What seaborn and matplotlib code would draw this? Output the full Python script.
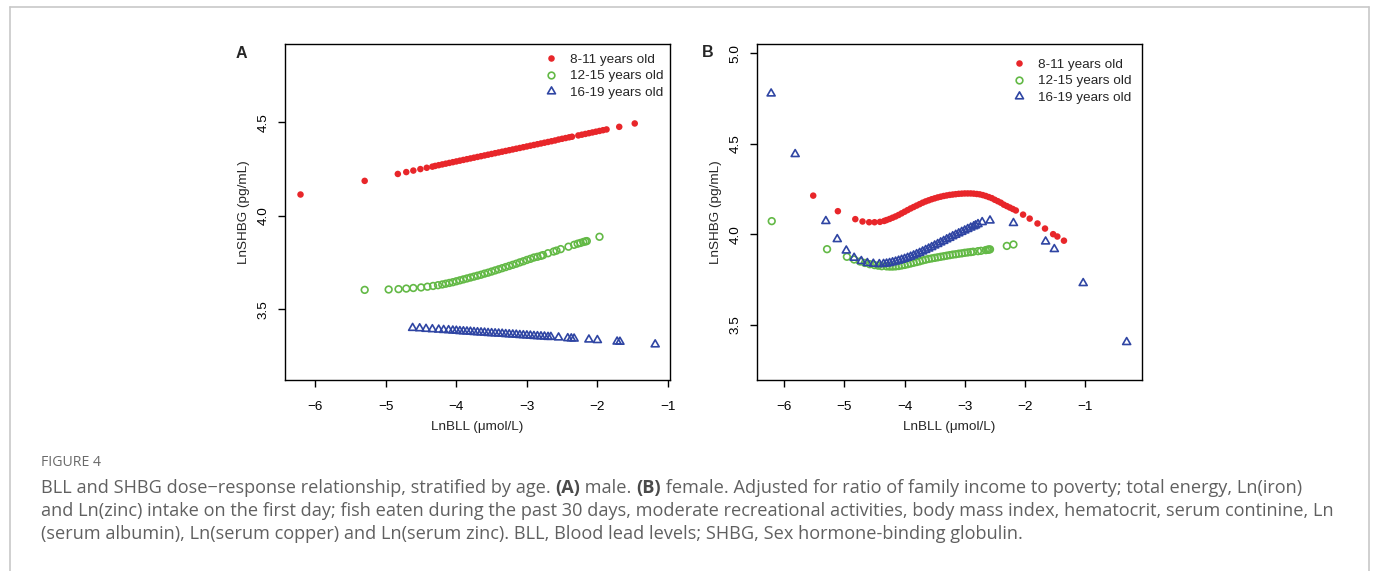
import matplotlib
matplotlib.use("Agg")
import matplotlib.pyplot as plt
import seaborn as sns
from matplotlib.path import Path
from matplotlib.lines import Line2D

# ---------------- data ----------------
labels = ["8-11 years old", "12-15 years old", "16-19 years old"]

# Panel A (male)
a_red_x = [-6.21, -5.30, -4.83, -4.71, -4.61, -4.51, -4.42, -4.34,
           -4.30, -4.25, -4.20, -4.15, -4.10, -4.05, -4.00, -3.95, -3.90, -3.85,
           -3.80, -3.75, -3.70, -3.65, -3.60, -3.55, -3.50, -3.45, -3.40, -3.35,
           -3.30, -3.25, -3.20, -3.15, -3.10, -3.05, -3.00, -2.95, -2.90, -2.85,
           -2.80, -2.75, -2.70, -2.65, -2.60, -2.55, -2.50, -2.45, -2.40, -2.36,
           -2.27, -2.22, -2.17, -2.12, -2.07, -2.02, -1.97, -1.92, -1.87,
           -1.69, -1.47]
a_red_y = [4.114, 4.187, 4.224, 4.234, 4.242, 4.250, 4.257, 4.263,
           4.267, 4.271, 4.275, 4.279, 4.283, 4.287, 4.291, 4.295, 4.299, 4.303,
           4.307, 4.311, 4.315, 4.319, 4.323, 4.327, 4.331, 4.335, 4.339, 4.343,
           4.347, 4.351, 4.355, 4.359, 4.363, 4.367, 4.371, 4.375, 4.379, 4.383,
           4.387, 4.391, 4.395, 4.399, 4.403, 4.408, 4.412, 4.416, 4.420, 4.423,
           4.430, 4.434, 4.438, 4.442, 4.446, 4.450, 4.454, 4.458, 4.462,
           4.476, 4.494]

a_green_x = [-5.30, -4.96, -4.82, -4.71, -4.61, -4.50, -4.41, -4.33, -4.26,
             -4.20, -4.15, -4.10, -4.05, -4.00, -3.95, -3.90, -3.85, -3.80, -3.75,
             -3.70, -3.65, -3.60, -3.55, -3.50, -3.45, -3.40, -3.35, -3.30, -3.25,
             -3.20, -3.15, -3.10, -3.05, -3.00, -2.95, -2.90, -2.85, -2.80,
             -2.77, -2.70, -2.62, -2.58, -2.52, -2.41, -2.33, -2.28, -2.24,
             -2.20, -2.17, -2.15, -1.97]
a_green_y = [3.604, 3.606, 3.608, 3.611, 3.614, 3.617, 3.621, 3.625, 3.629,
             3.633, 3.637, 3.641, 3.645, 3.650, 3.655, 3.660, 3.665, 3.670, 3.675,
             3.680, 3.685, 3.691, 3.696, 3.702, 3.708, 3.714, 3.720, 3.726, 3.732,
             3.738, 3.744, 3.751, 3.757, 3.764, 3.770, 3.777, 3.781, 3.786,
             3.790, 3.800, 3.809, 3.814, 3.822, 3.835, 3.845, 3.851, 3.855,
             3.860, 3.863, 3.865, 3.888]

a_blue_x = [-4.62, -4.52, -4.43, -4.34, -4.25, -4.18, -4.11, -4.05,
            -4.00, -3.95, -3.90, -3.85, -3.80, -3.75, -3.70, -3.65, -3.60, -3.55,
            -3.50, -3.45, -3.40, -3.35, -3.30, -3.25, -3.20, -3.15, -3.10, -3.05,
            -3.00, -2.95, -2.90, -2.85, -2.80, -2.75, -2.70,
            -2.66, -2.55, -2.42, -2.37, -2.33, -2.12, -2.00, -1.72, -1.68, -1.18]
a_blue_y = [3.400, 3.398, 3.395, 3.393, 3.391, 3.389, 3.388, 3.386,
            3.385, 3.383, 3.382, 3.381, 3.380, 3.378, 3.377, 3.376, 3.375, 3.373,
            3.372, 3.371, 3.370, 3.369, 3.367, 3.366, 3.365, 3.364, 3.362, 3.361,
            3.360, 3.359, 3.357, 3.356, 3.355, 3.354, 3.352,
            3.352, 3.349, 3.345, 3.344, 3.343, 3.338, 3.335, 3.327, 3.326, 3.312]

# Panel B (female)
b_red_x = [-5.52, -5.11, -4.82, -4.70, -4.59, -4.50, -4.41, -4.34,
           -4.30, -4.25, -4.20, -4.15, -4.10, -4.05, -4.00, -3.95, -3.90, -3.85,
           -3.80, -3.75, -3.70, -3.65, -3.60, -3.55, -3.50, -3.45, -3.40, -3.35,
           -3.30, -3.25, -3.20, -3.15, -3.10, -3.05, -3.00, -2.95, -2.90, -2.85,
           -2.80, -2.75, -2.70, -2.65, -2.60, -2.55, -2.50, -2.45, -2.40, -2.35,
           -2.30, -2.25, -2.20, -2.15,
           -2.03, -1.92, -1.79, -1.665, -1.53, -1.46, -1.35]
b_red_y = [4.213, 4.127, 4.083, 4.070, 4.066, 4.066, 4.068, 4.073,
           4.078, 4.084, 4.091, 4.098, 4.106, 4.115, 4.124, 4.133, 4.142, 4.150,
           4.158, 4.166, 4.174, 4.181, 4.187, 4.193, 4.198, 4.203, 4.207, 4.211,
           4.214, 4.217, 4.219, 4.221, 4.223, 4.224, 4.225, 4.225, 4.225, 4.224,
           4.222, 4.220, 4.216, 4.211, 4.205, 4.199, 4.190, 4.182, 4.174, 4.163,
           4.155, 4.147, 4.139, 4.131,
           4.108, 4.086, 4.059, 4.031, 4.000, 3.987, 3.964]

b_green_x = [-6.21, -5.29, -4.96, -4.84, -4.74, -4.66, -4.58, -4.50, -4.44, -4.38,
             -4.30, -4.25, -4.20, -4.15, -4.10, -4.05, -4.00, -3.95, -3.90, -3.85,
             -3.80, -3.75, -3.70, -3.65, -3.60, -3.55, -3.50, -3.45, -3.40, -3.35,
             -3.30, -3.25, -3.20, -3.15, -3.10, -3.05, -3.00, -2.95, -2.90, -2.86,
             -2.78, -2.73, -2.65, -2.62, -2.60, -2.58, -2.30, -2.19]
b_green_y = [4.072, 3.917, 3.875, 3.860, 3.849, 3.841, 3.834, 3.829, 3.826, 3.823,
             3.822, 3.821, 3.821, 3.822, 3.824, 3.827, 3.830, 3.834, 3.838, 3.842,
             3.846, 3.850, 3.855, 3.859, 3.863, 3.866, 3.869, 3.872, 3.875, 3.878,
             3.881, 3.884, 3.887, 3.889, 3.892, 3.894, 3.897, 3.899, 3.901, 3.903,
             3.906, 3.908, 3.912, 3.914, 3.915, 3.916, 3.935, 3.943]

b_blue_x = [-6.22, -5.82, -5.31, -5.12, -4.97, -4.84, -4.72, -4.62, -4.52, -4.42,
            -4.35, -4.30, -4.25, -4.20, -4.15, -4.10, -4.05, -4.00, -3.95, -3.90,
            -3.85, -3.80, -3.75, -3.70, -3.65, -3.60, -3.55, -3.50, -3.45, -3.40,
            -3.35, -3.30, -3.25, -3.20, -3.15, -3.10, -3.05, -3.00, -2.95, -2.90,
            -2.85, -2.82, -2.78, -2.71, -2.58, -2.19, -1.655, -1.51, -1.03, -0.307]
b_blue_y = [4.777, 4.442, 4.072, 3.972, 3.909, 3.869, 3.851, 3.840, 3.836, 3.834,
            3.835, 3.837, 3.840, 3.844, 3.848, 3.853, 3.858, 3.863, 3.869, 3.875,
            3.882, 3.889, 3.896, 3.904, 3.912, 3.920, 3.928, 3.937, 3.945, 3.954,
            3.962, 3.971, 3.979, 3.988, 3.996, 4.004, 4.012, 4.020, 4.028, 4.036,
            4.043, 4.048, 4.055, 4.066, 4.075, 4.061, 3.959, 3.917, 3.729, 3.403]

x_ticks = [-6, -5, -4, -3, -2, -1]
a_y_ticks = [3.5, 4.0, 4.5]
b_y_ticks = [3.5, 4.0, 4.5, 5.0]
x_label = "LnBLL (μmol/L)"
y_label = "LnSHBG (pg/mL)"

caption_title = "FIGURE 4"
caption_lines = [
    [("BLL and SHBG dose\u2212response relationship, stratified by age. ", "normal"),
     ("(A)", "bold"), (" male. ", "normal"), ("(B)", "bold"),
     (" female. Adjusted for ratio of family income to poverty; total energy, Ln(iron)", "normal")],
    [("and Ln(zinc) intake on the first day; fish eaten during the past 30 days, moderate "
      "recreational activities, body mass index, hematocrit, serum continine, Ln", "normal")],
    [("(serum albumin), Ln(serum copper) and Ln(serum zinc). BLL, Blood lead levels; SHBG, "
      "Sex hormone-binding globulin.", "normal")],
]

# ---------------- styling ----------------
sns.set_style("ticks")
plt.rcParams["font.family"] = ["Liberation Sans", "DejaVu Sans"]

RED = "#E8262A"
GREEN = "#63B946"
BLUE = "#2F45A3"

W, H = 1373, 571
fig = plt.figure(figsize=(W / 100, H / 100), dpi=100)

tri = Path([(-1, -0.577), (1, -0.577), (0, 1.155), (0, 0)],
           [Path.MOVETO, Path.LINETO, Path.LINETO, Path.CLOSEPOLY])

FS = 9.7


def panel(rect, series, xlim, ylim, yticks, letter, letter_xy, leg_anchor):
    ax = fig.add_axes(rect)
    (rx, ry), (gx, gy), (bx, by) = series
    sns.scatterplot(x=rx, y=ry, ax=ax, color=RED, edgecolor="none", s=22,
                    marker="o", legend=False, zorder=3)
    sns.scatterplot(x=gx, y=gy, ax=ax, facecolors="none", edgecolor=GREEN,
                    linewidth=1.2, s=23, marker="o", legend=False, zorder=4)
    sns.scatterplot(x=bx, y=by, ax=ax, facecolors="none", edgecolor=BLUE,
                    linewidth=1.2, s=44, marker=tri, legend=False, zorder=5)
    ax.set_xlim(*xlim)
    ax.set_ylim(*ylim)
    ax.set_xticks(x_ticks)
    ax.set_yticks(yticks)
    ax.set_yticklabels([f"{v:.1f}" for v in yticks])
    for sp in ax.spines.values():
        sp.set_visible(True)
        sp.set_linewidth(1.0)
        sp.set_color("black")
    ax.tick_params(direction="out", length=5, width=1.0, color="black",
                   labelsize=FS, labelcolor="black")
    ax.tick_params(axis="x", pad=10)
    ax.tick_params(axis="y", labelrotation=90, pad=6)
    for lab in ax.get_yticklabels():
        lab.set_va("center")
    ax.set_xlabel(x_label, fontsize=FS, va="center")
    ax.set_ylabel(y_label, fontsize=FS, va="center")
    ax.xaxis.set_label_coords(0.5, -0.139)
    ax.yaxis.set_label_coords(-0.107, 0.5)
    ax.grid(False)

    handles = [
        Line2D([], [], linestyle="none", marker="o", markersize=4.7,
               markerfacecolor=RED, markeredgecolor="none"),
        Line2D([], [], linestyle="none", marker="o", markersize=4.8,
               markerfacecolor="none", markeredgecolor=GREEN, markeredgewidth=1.2),
        Line2D([], [], linestyle="none", marker=tri, markersize=6.6,
               markerfacecolor="none", markeredgecolor=BLUE, markeredgewidth=1.2),
    ]
    ax.legend(handles, labels, loc="upper left", bbox_to_anchor=leg_anchor,
              frameon=False, fontsize=FS, borderaxespad=0, borderpad=0,
              handlelength=1.0, handletextpad=0.9, labelspacing=0.3)
    fig.text(letter_xy[0] / W, 1 - letter_xy[1] / H, letter, fontsize=11.5,
             fontweight="bold", ha="center", va="center")
    return ax


axA = panel([285 / W, 1 - 380 / H, 385 / W, 336 / H],
            [(a_red_x, a_red_y), (a_green_x, a_green_y), (a_blue_x, a_blue_y)],
            (-6.43, -0.97), (3.122, 4.919), a_y_ticks, "A", (241.7, 53),
            (0.6735, 0.972))
axB = panel([756.7 / W, 1 - 380 / H, 385 / W, 336 / H],
            [(b_red_x, b_red_y), (b_green_x, b_green_y), (b_blue_x, b_blue_y)],
            (-6.46, -0.057), (3.194, 5.051), b_y_ticks, "B", (708, 52.7),
            (0.6647, 0.957))

# ---------------- frame ----------------
FRAME = "#c8c8c8"
fx0, fx1, fy0 = 9.5 / W, 1369 / W, 1 - 7 / H
fig.add_artist(Line2D([fx0, fx0], [0, fy0], color=FRAME, lw=1.2, transform=fig.transFigure))
fig.add_artist(Line2D([fx1, fx1], [0, fy0], color=FRAME, lw=1.2, transform=fig.transFigure))
fig.add_artist(Line2D([fx0, fx1], [fy0, fy0], color=FRAME, lw=1.2, transform=fig.transFigure))

# ---------------- caption ----------------
CAP_FONT = ["Open Sans", "DejaVu Sans"]
CAP_COLOR = "#606060"
renderer = fig.canvas.get_renderer()


def draw_line(x_px, y_px, segments, size):
    x = x_px
    texts = []
    for s, w in segments:
        t = fig.text(x / W, 1 - y_px / H, s, fontsize=size, fontweight=w,
                     family=CAP_FONT, color=CAP_COLOR if w == "normal" else "#4a4a4a",
                     ha="left", va="center")
        x += t.get_window_extent(renderer).width
        texts.append(t)
    return x - x_px, texts


# fit the caption font size so line 1 spans the reference width
w0, tmp = draw_line(41, 488, caption_lines[0], 10)
for t in tmp:
    t.remove()
cap_size = 10 * 1261 / w0

fig.text(41 / W, 1 - 463 / H, caption_title, fontsize=cap_size * 0.78,
         family=CAP_FONT, color="#6a6a6a", ha="left", va="center")
for i, segs in enumerate(caption_lines):
    draw_line(41, 488 + 23 * i, segs, cap_size)

fig.savefig("out.png", dpi=100, facecolor="white")
